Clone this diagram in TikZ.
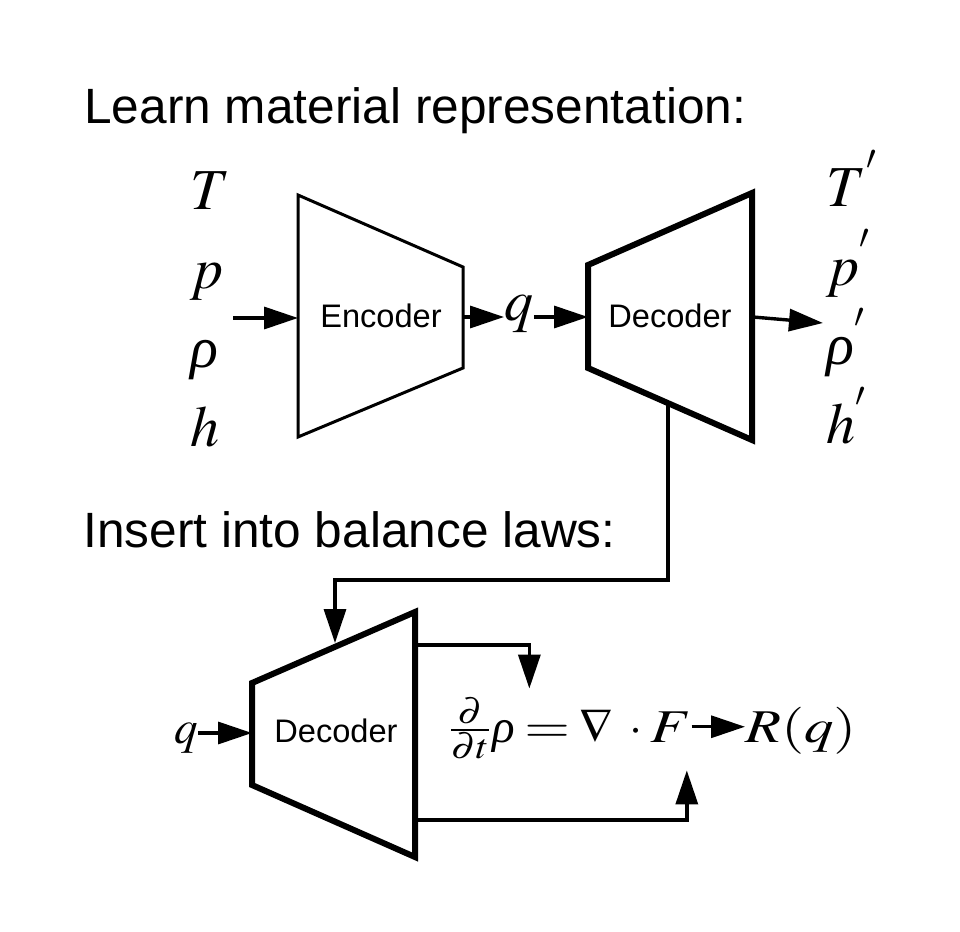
\documentclass[tikz,border=0pt]{standalone}
\usepackage{mathptmx}
\usepackage[no-math]{fontspec}
\setmainfont{Liberation Sans}
\newfontfamily\serifface{Liberation Serif}
\usetikzlibrary{arrows.meta}

\newcommand{\stretchx}[2][1.25]{\scalebox{#1}[1]{#2}}
\newcommand{\rhoit}{\mbox{\serifface\itshape ρ}}

\begin{document}
\begin{tikzpicture}[x=0.5pt, y=-0.5pt,
	heading/.style={font=\fontsize{24.8}{30}\selectfont, anchor=base west, inner sep=0pt},
	block/.style={font=\fontsize{16.3}{20}\selectfont, inner sep=0pt},
	var/.style={font=\fontsize{29}{35}\selectfont, anchor=base west, inner sep=0pt},
	eqn/.style={font=\fontsize{23.5}{28}\selectfont, anchor=base west, inner sep=0pt},
	thin box/.style={line width=1.5pt},
	thick box/.style={line width=3pt},
	feed/.style={line width=1.7pt, -{Triangle[length=17pt, width=11pt]}}]
	\useasboundingbox (0,0) rectangle (960,932);

	% Headings
	\node (learn) at (84,123) [heading] {Learn material representation:};
	\node (insert) at (83,547) [heading] {Insert into balance laws:};

	% State variables in and out
	\foreach \v [count=\i] in {T,p,\rhoit,h}{
		\pgfmathtruncatemacro{\yy}{130+79*\i}
		\node (in \i) at (190,\yy) [var] {$\v$};
		\node (out \i) at (826,\yy-3) [var] {$\v^{'}$};
	}

	% Encoder and decoders
	\draw [thin box] (298,195) -- (463,267) -- (463,368) -- (298,437) -- cycle;
	\node (enc) at (381,316) [block] {Encoder};
	\draw [thick box] (588,265) -- (752,193) -- (752,440) -- (588,368) -- cycle;
	\node (dec) at (670,316) [block] {Decoder};
	\draw [thick box] (252,683) -- (415,612) -- (415,857) -- (252,785) -- cycle;
	\node (dec low) at (336,731) [block] {Decoder};

	% Ports on the boxes
	\coordinate (src) at (233,318);
	\coordinate (enc w) at (298,318);
	\coordinate (enc e) at (463,317);
	\coordinate (dec w) at (588,317);
	\coordinate (dec e) at (753,317);
	\coordinate (dst) at (823,323);
	\coordinate (dec s) at (668,404);
	\coordinate (low n) at (335,643);
	\coordinate (low w) at (252,733);
	\coordinate (low ne) at (415,645);
	\coordinate (low se) at (415,820);

	% Latent code
	\node (code) at (504,320) [var] {$q$};
	\node (code low) at (174,743) [eqn] {$q$};

	% Balance law
	\node (ddt) at (448,742) [eqn] {\stretchx[1.15]{$\frac{\partial}{\partial t}$}};
	\node (rho) at (492,742) [eqn] {$\rhoit$};
	\node (eq) at (524,742) [eqn] {\stretchx{$=$}};
	\node (nabla) at (579,742) [eqn] {$\nabla$};
	\node (dot) at (629,742) [eqn] {$\cdot$};
	\node (flux) at (650,742) [eqn] {\stretchx{$F$}};
	\node (res) at (745,742) [eqn] {\stretchx{$R(q)$}};

	% Wires
	\draw [feed] (src) -- (enc w);
	\draw [feed] (enc e) -- (enc e -| code.west);
	\draw [feed] (code.east |- dec w) -- (dec w);
	\draw [feed] (dec e) -- (dst);
	\draw [feed] (dec s) -- ++(0,176) -| (low n);
	\draw [feed] (code low.east |- low w) -- (low w);
	\draw [feed] (low ne) -| ([shift={(7pt,15.5pt)}]rho.north east);
	\draw [feed] (low se) -| ([shift={(8pt,-14pt)}]flux.south);
	\draw [feed] (flux.east) -- (flux.east -| res.west);
\end{tikzpicture}
\end{document}
